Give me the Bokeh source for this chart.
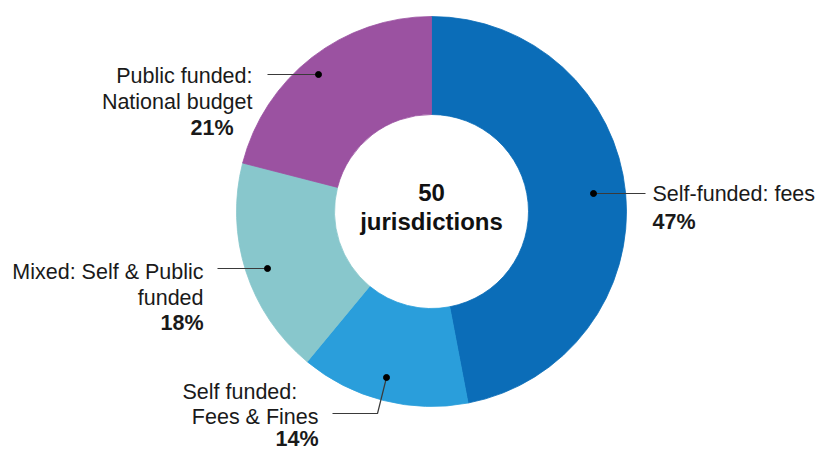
import math
from bokeh.plotting import figure
from bokeh.models import Range1d, ColumnDataSource
from bokeh.core.properties import value
from bokeh.embed import file_html
from bokeh.resources import INLINE

# ---- data ----
categories = ["Self-funded: fees", "Self funded: Fees & Fines",
              "Mixed: Self & Public funded", "Public funded: National budget"]
shares = [47, 14, 18, 21]
colors = ["#0b6db8", "#2a9edb", "#88c7cc", "#9b52a1"]
label_lines = [["Self-funded: fees"],
               ["Self funded:", "Fees & Fines"],
               ["Mixed: Self & Public", "funded"],
               ["Public funded:", "National budget"]]
center_lines = ["50", "jurisdictions"]

W, H = 818, 451
FONT = "Liberation Sans"
BL_SHIFT = 6


def px(x):
    return x


def py(y):
    return H - y


p = figure(width=W, height=H, output_backend="svg", toolbar_location=None,
           x_range=Range1d(0, W), y_range=Range1d(0, H), min_border=0,
           background_fill_color="white", border_fill_color="white")
p.outline_line_color = None
p.axis.visible = False
p.grid.visible = False

total = sum(shares)
starts, ends, cum = [], [], 0
for s in shares:
    starts.append(math.pi / 2 - 2 * math.pi * cum / total)
    cum += s
    ends.append(math.pi / 2 - 2 * math.pi * cum / total)

src = ColumnDataSource(dict(start=starts, end=ends, color=colors, cat=categories))
p.annular_wedge(x=px(431), y=py(211), inner_radius=97, outer_radius=195,
                start_angle="start", end_angle="end", direction="clock",
                fill_color="color", line_color="color", line_width=0.8, source=src)

# centre text
p.text(x=[px(431), px(431)], y=[py(192), py(221)], text=center_lines,
       text_font=value(FONT), text_font_size="24px", text_font_style="bold",
       text_align="center", text_baseline="middle", text_color="#111111")

# label layout: (anchor x, align, baselines for lines, pct x, pct align, pct baseline)
layouts = [
    (652, "left", [199], 652, "left", 227),
    (None, None, [397, 422], 318, "right", 444),
    (203, "right", [277, 303], 203, "right", 328),
    (252, "right", [81, 107], 233, "right", 133),
]
for i, (ax, al, bls, pxp, pal, pbl) in enumerate(layouts):
    lines = label_lines[i]
    for j, (ln, bl) in enumerate(zip(lines, bls)):
        if ax is None:
            if j == 0:
                xx, aa = 182, "left"
            else:
                xx, aa = 318, "right"
        else:
            xx, aa = ax, al
        p.text(x=[px(xx)], y=[py(bl - BL_SHIFT)], text=[ln], text_font=value(FONT),
               text_font_size="21.5px", text_align=aa, text_baseline="alphabetic",
               text_color="#1a1a1a")
    p.text(x=[px(pxp)], y=[py(pbl - BL_SHIFT)], text=[f"{shares[i]}%"],
           text_font=value(FONT), text_font_size="21.5px", text_font_style="bold",
           text_align=pal, text_baseline="alphabetic", text_color="#1a1a1a")

# leader lines and dots
leaders = [
    ([593, 645], [193, 193]),
    ([386, 377, 332], [377, 413, 413]),
    ([267, 217], [268, 268]),
    ([318, 267], [74, 74]),
]
for xs, ys in leaders:
    p.line([px(v) for v in xs], [py(v) for v in ys], line_color="#3a3a3a",
           line_width=1.2)
    p.scatter([px(xs[0])], [py(ys[0])], size=6, fill_color="black",
              line_color="black")

open("out.html", "w").write(file_html(p, INLINE))
